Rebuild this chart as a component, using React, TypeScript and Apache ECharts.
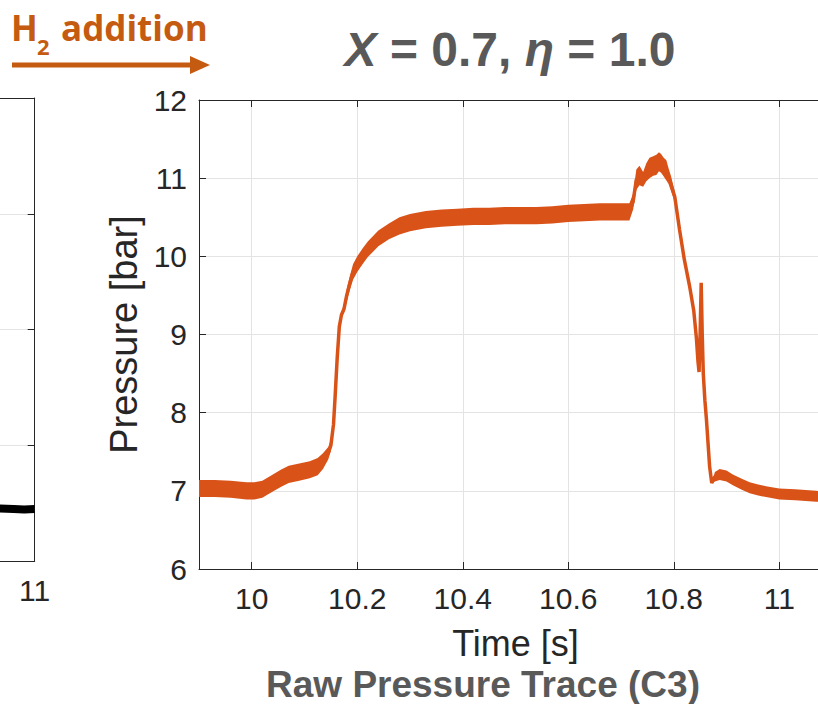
import React, { useEffect, useRef } from "react";
import * as echarts from "echarts";

// ---- main trace (C3) ----
const timeS = [9.900, 9.930, 9.960, 9.990, 10.005, 10.020, 10.040, 10.055, 10.070, 10.090,
  10.110, 10.125, 10.135, 10.145, 10.150, 10.155, 10.158, 10.162, 10.166, 10.170,
  10.175, 10.180, 10.186, 10.192, 10.200, 10.210, 10.220, 10.240, 10.260, 10.280,
  10.300, 10.330, 10.360, 10.390, 10.420, 10.450, 10.480, 10.510, 10.540, 10.570,
  10.600, 10.630, 10.660, 10.690, 10.716, 10.723, 10.729, 10.735, 10.742, 10.748,
  10.754, 10.761, 10.767, 10.772, 10.776, 10.781, 10.786, 10.790, 10.795, 10.802,
  10.811, 10.820, 10.830, 10.838, 10.843, 10.846, 10.848, 10.850, 10.852, 10.854,
  10.856, 10.859, 10.862, 10.868, 10.872, 10.878, 10.887, 10.900, 10.912, 10.930,
  10.944, 10.960, 10.975, 11.000, 11.030, 11.070, 11.100];

const pressureMid = [7.03, 7.03, 7.02, 7.00, 7.00, 7.02, 7.10, 7.16, 7.21, 7.24,
  7.27, 7.31, 7.38, 7.48, 7.58, 7.85, 8.20, 8.70, 9.10, 9.25,
  9.33, 9.50, 9.66, 9.80, 9.90, 10.00, 10.09, 10.23, 10.32, 10.39,
  10.43, 10.47, 10.49, 10.50, 10.51, 10.51, 10.52, 10.52, 10.52, 10.53,
  10.55, 10.56, 10.57, 10.57, 10.57, 10.70, 10.98, 11.03, 10.98, 11.07,
  11.13, 11.15, 11.17, 11.21, 11.19, 11.14, 11.10, 11.03, 10.92, 10.76,
  10.34, 9.96, 9.62, 9.30, 8.95, 8.65, 8.52, 9.00, 9.66, 9.00,
  8.50, 8.16, 7.91, 7.31, 7.10, 7.18, 7.21, 7.19, 7.14, 7.08,
  7.04, 7.01, 6.99, 6.96, 6.95, 6.93, 6.92];

// lower / upper edge of the noisy band
const pressureLow = [6.92, 6.92, 6.91, 6.89, 6.89, 6.91, 6.99, 7.05, 7.10, 7.13,
  7.16, 7.20, 7.28, 7.40, 7.51, 7.81, 8.20, 8.70, 9.10, 9.22,
  9.28, 9.42, 9.57, 9.70, 9.80, 9.90, 9.99, 10.13, 10.22, 10.28,
  10.32, 10.36, 10.38, 10.39, 10.40, 10.40, 10.41, 10.41, 10.41, 10.42,
  10.44, 10.45, 10.46, 10.46, 10.46, 10.60, 10.85, 10.91, 10.89, 10.96,
  11.00, 11.03, 11.04, 11.09, 11.07, 11.02, 10.97, 10.93, 10.83, 10.70,
  10.30, 9.92, 9.59, 9.30, 8.95, 8.65, 8.52, 9.00, 9.66, 9.00,
  8.50, 8.16, 7.91, 7.31, 7.10, 7.12, 7.14, 7.12, 7.07, 7.01,
  6.97, 6.94, 6.92, 6.89, 6.88, 6.86, 6.85];

const pressureHigh = [7.14, 7.14, 7.13, 7.11, 7.11, 7.13, 7.21, 7.27, 7.32, 7.35,
  7.38, 7.42, 7.48, 7.56, 7.65, 7.89, 8.20, 8.70, 9.10, 9.28,
  9.38, 9.58, 9.75, 9.90, 10.00, 10.10, 10.19, 10.33, 10.42, 10.50,
  10.54, 10.58, 10.60, 10.61, 10.62, 10.62, 10.63, 10.63, 10.63, 10.64,
  10.66, 10.67, 10.68, 10.68, 10.68, 10.80, 11.11, 11.16, 11.08, 11.19,
  11.26, 11.28, 11.30, 11.33, 11.31, 11.26, 11.23, 11.13, 11.02, 10.82,
  10.38, 10.00, 9.65, 9.30, 8.95, 8.65, 8.52, 9.00, 9.66, 9.00,
  8.50, 8.16, 7.91, 7.31, 7.10, 7.24, 7.28, 7.26, 7.21, 7.15,
  7.11, 7.08, 7.06, 7.03, 7.02, 7.00, 6.99];

// ---- neighbouring (cropped) panel on the left ----
const leftTime = [10.90, 10.93, 10.96, 10.98, 11.00];
const leftValues = [6.90, 6.91, 6.90, 6.89, 6.90];
const leftTicks = [11];

// ---- axes ----
const xTicks = [10, 10.2, 10.4, 10.6, 10.8, 11];
const xMin = 9.9;
const xMax = 11.1;
const yMin = 6;
const yMax = 12;

const ORANGE = "#D95319";
const AXIS = "#262626";
const GRIDC = "#e3e3e3";
const FONT = "Liberation Sans, Arial, sans-serif";

export default function App() {
  const ref = useRef<HTMLDivElement>(null);

  useEffect(() => {
    if (!ref.current) return;
    const chart = echarts.init(ref.current, undefined, { renderer: "svg" });

    const midData = timeS.map((t, i) => [t, pressureMid[i]]);
    const leftData = leftTime.map((t, i) => [t, leftValues[i]]);

    const axisLineStyle = { color: AXIS, width: 1 };

    const bandRender = (params: any, api: any) => {
      const pts: number[][] = [];
      for (let i = 0; i < timeS.length; i++) pts.push(api.coord([timeS[i], pressureHigh[i]]));
      for (let i = timeS.length - 1; i >= 0; i--) pts.push(api.coord([timeS[i], pressureLow[i]]));
      const cs = params.coordSys;
      return {
        type: "polygon",
        shape: { points: pts },
        style: { fill: ORANGE },
        clipPath: { type: "rect", shape: { x: cs.x, y: cs.y, width: cs.width, height: cs.height } },
      };
    };

    chart.setOption({
      animation: false,
      backgroundColor: "#ffffff",
      grid: [
        { left: 199, top: 100, right: -14, bottom: 135, containLabel: false, outerBoundsMode: "none" },
        { left: -546, width: 580.7, top: 98, bottom: 143, containLabel: false, outerBoundsMode: "none" },
      ],
      xAxis: [
        {
          gridIndex: 0, type: "value", min: xMin, max: xMax,
          axisLine: { show: true, onZero: false, lineStyle: axisLineStyle },
          axisTick: { show: true, inside: true, length: 7, customValues: xTicks, lineStyle: axisLineStyle },
          axisLabel: { customValues: xTicks, fontSize: 30, color: AXIS, margin: 14, fontFamily: FONT },
          splitLine: { show: true, lineStyle: { color: GRIDC, width: 1 } },
          name: "Time [s]", nameLocation: "middle", nameGap: 56,
          nameTextStyle: { fontSize: 36, color: AXIS, fontFamily: FONT },
        },
        {
          gridIndex: 0, type: "value", min: xMin, max: xMax, position: "top",
          axisLine: { show: true, onZero: false, lineStyle: axisLineStyle },
          axisTick: { show: true, inside: true, length: 7, customValues: xTicks, lineStyle: axisLineStyle },
          axisLabel: { show: false },
          splitLine: { show: false },
        },
        {
          gridIndex: 1, type: "value", min: xMin, max: 11,
          axisLine: { show: true, onZero: false, lineStyle: axisLineStyle },
          axisTick: { show: true, inside: true, length: 7, customValues: leftTicks, lineStyle: axisLineStyle },
          axisLabel: { customValues: leftTicks, fontSize: 30, color: AXIS, margin: 14, fontFamily: FONT },
          splitLine: { show: false },
        },
        {
          gridIndex: 1, type: "value", min: xMin, max: 11, position: "top",
          axisLine: { show: true, onZero: false, lineStyle: axisLineStyle },
          axisTick: { show: false },
          axisLabel: { show: false },
          splitLine: { show: false },
        },
      ],
      yAxis: [
        {
          gridIndex: 0, type: "value", min: yMin, max: yMax, interval: 1,
          axisLine: { show: true, onZero: false, lineStyle: axisLineStyle },
          axisTick: { show: true, inside: true, length: 7, lineStyle: axisLineStyle },
          axisLabel: { fontSize: 30, color: AXIS, margin: 12, fontFamily: FONT },
          splitLine: { show: true, lineStyle: { color: GRIDC, width: 1 } },
          name: "Pressure [bar]", nameLocation: "middle", nameGap: 52, nameRotate: 90,
          nameTextStyle: { fontSize: 38, color: AXIS, fontFamily: FONT },
        },
        {
          gridIndex: 1, type: "value", min: 6, max: 14, interval: 2, position: "right",
          axisLine: { show: true, onZero: false, lineStyle: axisLineStyle },
          axisTick: { show: true, inside: true, length: 7, lineStyle: axisLineStyle },
          axisLabel: { show: false },
          splitLine: { show: true, lineStyle: { color: GRIDC, width: 1 } },
        },
      ],
      series: [
        {
          type: "custom", xAxisIndex: 0, yAxisIndex: 0, silent: true,
          data: [[timeS[0], pressureMid[0]]],
          encode: { x: 0, y: 1 },
          renderItem: bandRender,
        },
        {
          type: "line", xAxisIndex: 0, yAxisIndex: 0, data: midData,
          symbol: "none", showSymbol: false, silent: true,
          lineStyle: { width: 3.5, color: ORANGE },
        },
        {
          type: "line", xAxisIndex: 2, yAxisIndex: 1, data: leftData,
          symbol: "none", showSymbol: false, silent: true,
          lineStyle: { width: 8, color: "#000000" },
        },
      ],
      graphic: [
        {
          type: "text",
          style: {
            text: "{i|X} = 0.7, {i|η} = 1.0",
            x: 510, y: 49,
            align: "center", verticalAlign: "middle",
            textAlign: "center", textVerticalAlign: "middle",
            fontSize: 48, fontWeight: "bold", fontFamily: FONT, fill: "#595959",
            rich: {
              i: { fontSize: 48, fontWeight: "bold", fontStyle: "italic", fontFamily: FONT, fill: "#595959" },
            },
          },
        },
        {
          type: "text",
          style: {
            text: "Raw Pressure Trace (C3)",
            x: 483, y: 703,
            align: "center", verticalAlign: "bottom",
            textAlign: "center", textVerticalAlign: "bottom",
            fontSize: 37, fontWeight: "bold", fontFamily: FONT, fill: "#595959",
          },
        },
        {
          type: "text",
          style: {
            text: "H", x: 11, y: 45,
            align: "left", verticalAlign: "bottom", textAlign: "left", textVerticalAlign: "bottom",
            fontSize: 35, fontWeight: "bold", fontFamily: "Open Sans", fill: "#C55A11",
          },
        },
        {
          type: "text",
          style: {
            text: "2", x: 37, y: 57,
            align: "left", verticalAlign: "bottom", textAlign: "left", textVerticalAlign: "bottom",
            fontSize: 22, fontWeight: "bold", fontFamily: "Open Sans", fill: "#C55A11",
          },
        },
        {
          type: "text",
          style: {
            text: "addition", x: 61, y: 45,
            align: "left", verticalAlign: "bottom", textAlign: "left", textVerticalAlign: "bottom",
            fontSize: 35, fontWeight: "bold", fontFamily: "Open Sans", fill: "#C55A11",
          },
        },
        {
          type: "line",
          shape: { x1: 12, y1: 65, x2: 194, y2: 65 },
          style: { stroke: "#C55A11", lineWidth: 5 },
        },
        {
          type: "polygon",
          shape: { points: [[190, 56], [210, 65], [190, 74]] },
          style: { fill: "#C55A11" },
        },
      ],
    });

    return () => chart.dispose();
  }, []);

  return (
    <div
      ref={ref}
      style={{ position: "absolute", left: 0, top: 0, width: 818, height: 704, background: "#fff" }}
    />
  );
}
